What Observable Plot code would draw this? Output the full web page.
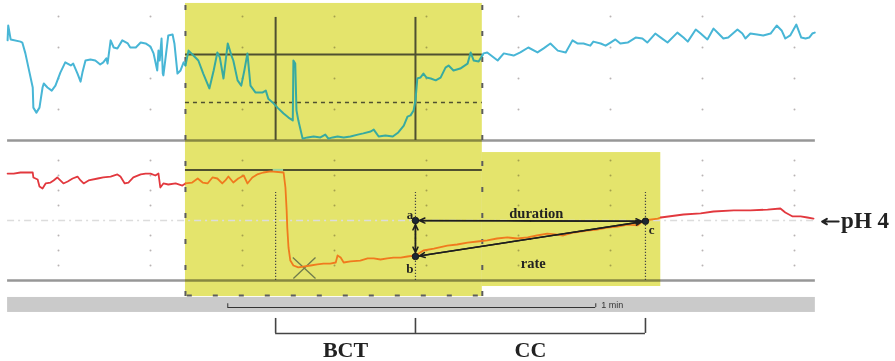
<!DOCTYPE html>
<html><head><meta charset="utf-8">
<script src="https://cdn.jsdelivr.net/npm/d3@7"></script>
<script src="https://cdn.jsdelivr.net/npm/@observablehq/plot@0.6"></script>
<style>html,body{margin:0;padding:0;background:#fff;}#chart svg{display:block;}</style>
</head><body><div id="chart"></div>
<script>
// ---- data (time in seconds, impedance in kΩ, pH) ----
const impTime = [-8.3,-8.2,-7.8,-6.2,-5.9,-5.4,-4.9,-4.2,-4.1,-3.6,-3.1,-2.6,-2.4,-1.8,-1.1,-0.5,0.3,1.1,2.0,2.4,3.1,3.6,3.9,4.4,5.2,6.0,6.8,7.3,7.8,8.0,8.5,9.0,9.6,10.4,11.3,11.7,12.6,13.4,14.2,15.0,15.5,16.1,16.3,16.5,16.8,17.0,17.1,17.4,17.9,18.6,18.9,19.4,19.9,20.4,20.7,21.2,22.0,22.8,23.6,24.6,25.3,25.9,26.3,26.9,27.6,28.2,28.5,29.2,29.8,30.3,30.8,31.3,32.1,33.3,33.8,34.2,35.1,35.7,36.7,37.5,38.2,38.3,38.6,38.8,39.1,39.8,40.6,41.6,42.7,43.5,44.0,44.7,45.5,46.5,47.6,48.8,49.7,50.9,51.4,52.2,53.3,54.5,55.4,56.3,56.9,57.4,57.9,58.2,58.5,59.0,59.5,60.0,60.7,61.5,62.3,63.1,63.6,64.4,65.5,66.7,67.2,67.7,68.5,69.3,69.9,71.6,72.6,74.2,75.3,76.6,78.1,79.1,80.2,81.4,82.7,83.8,84.6,85.6,86.7,87.2,88.4,89.2,90.0,90.8,91.6,92.8,94.1,95.2,96.0,97.3,98.2,99.3,100.9,101.9,102.6,103.9,104.7,105.8,106.8,107.6,108.4,109.2,110.7,111.5,112.0,112.8,113.9,114.9,116.1,117.1,117.9,118.5,119.3,120.3,121.1,121.8,122.4,122.9,123.3];
const impKohm = [3.23,3.71,3.26,3.19,3.16,2.81,2.35,1.71,1.06,0.90,1.06,1.71,1.84,1.71,1.61,1.77,2.19,2.52,2.42,2.48,2.16,1.90,2.19,2.58,2.61,2.58,2.45,2.52,2.65,2.48,3.23,3.00,2.97,3.23,3.13,3.00,3.00,3.16,3.13,3.03,2.81,2.26,2.90,2.58,3.29,2.16,2.10,2.58,3.39,3.42,3.13,2.16,2.26,2.52,2.42,2.90,2.74,2.58,2.16,1.68,2.26,2.84,2.68,2.00,3.13,2.74,2.58,1.94,1.77,2.26,2.81,1.77,1.55,1.55,1.61,1.35,1.19,1.06,0.87,0.74,0.65,2.58,2.48,0.97,0.65,0.06,0.10,0.13,0.10,0.19,0.06,0.10,0.13,0.10,0.13,0.19,0.23,0.29,0.35,0.13,0.16,0.13,0.26,0.48,0.77,0.81,0.97,1.29,2.00,2.03,2.16,2.03,2.00,1.94,2.03,2.35,2.42,2.26,2.32,2.48,2.84,2.58,2.55,2.81,2.84,2.58,2.81,2.74,2.84,3.00,2.84,2.97,3.13,2.90,2.84,3.23,3.13,3.13,3.06,3.19,3.13,3.06,3.16,3.26,3.13,3.16,3.32,3.29,3.16,3.45,3.32,3.16,3.48,3.32,3.19,3.58,3.45,3.26,3.61,3.45,3.29,3.32,3.58,3.45,3.29,3.45,3.42,3.39,3.45,3.71,3.55,3.29,3.39,3.74,3.32,3.29,3.32,3.45,3.48];
const phTime = [-8.3,-7.3,-6.2,-4.2,-4.1,-3.4,-3.1,-2.6,-2.1,-1.3,-0.8,-0.2,0.3,0.8,1.5,2.3,3.1,3.6,4.1,4.9,6.4,7.3,8.5,9.6,10.1,10.8,11.4,12.2,13.4,14.2,15.0,15.8,16.3,16.6,17.1,17.9,19.1,20.2,20.7,21.8,22.7,23.5,24.3,25.1,25.9,26.7,27.2,27.7,28.5,29.3,30.2,30.8,31.6,32.4,33.4,34.6,36.7,37.0,37.2,37.3,37.5,37.8,38.3,39.1,39.9,41.1,42.2,43.2,44.3,45.2,45.5,46.0,46.5,47.6,49.2,50.4,51.4,52.5,53.6,54.6,55.8,56.9,58.2,59.5,61.2,63.4,65.0,66.7,68.3,69.9,71.5,73.2,74.8,76.5,78.0,79.7,81.0,82.3,84.0,86.2,87.8,89.5,91.2,92.8,94.4,95.4,97.7,98.2,101.9,104.7,106.8,110.1,112.8,115.6,117.7,118.5,119.7,121.0,122.1,123.1];
const phValue = [7.13,7.13,7.20,7.20,6.87,6.73,6.27,6.13,6.47,6.53,6.67,6.87,6.67,6.47,6.60,6.80,6.93,6.67,6.47,6.67,6.80,6.87,6.93,7.07,6.93,6.47,6.53,6.87,7.07,7.13,7.13,7.00,7.13,6.20,6.47,6.40,6.47,6.33,6.47,6.53,6.80,6.53,6.47,6.87,6.80,6.47,6.67,6.93,6.53,6.80,7.00,6.47,6.87,7.07,7.20,7.27,7.20,6.20,4.67,3.53,2.20,1.33,1.00,0.87,0.93,1.00,1.07,1.13,1.13,1.20,1.67,1.53,1.20,1.27,1.33,1.47,1.47,1.40,1.47,1.53,1.53,1.60,1.67,2.00,2.13,2.33,2.40,2.53,2.60,2.67,2.80,2.87,2.80,2.87,3.00,3.13,3.07,3.00,3.20,3.33,3.40,3.53,3.60,3.73,3.67,4.00,4.13,4.20,4.40,4.47,4.60,4.67,4.67,4.73,4.80,4.53,4.27,4.27,4.20,4.13];
const gridTimes = [0,15,30,45,60,75,90,105,120];
const impGridKohm = [1,2,3,4];
const phGrid = [1,2,3,5,6,7,8];
const phaseLabels = ["BCT","CC"];
const phaseBounds = [35.4,58.2,95.7];   // onset of drop, point a/b, point c
const pointLabels = ["a","b","c"];
const pointTime = [58.2,58.2,95.7];
const pointPH = [4.0,1.6,3.95];
const scaleLabel = "1 min";
const refLabel = "pH 4";

// ---- shared vertical unit: pH units; impedance panel sits above pH 9.33 ----
const U = v => 28/3 + v*31/15;
const tMin = -8.3, tMax = 123.4;
const box1 = [20.7, 69.1], box2 = [69.1, 98.2];
const pxT = 92/15, pxU = 15;

function runs(ts, vs, lo, hi){
  const out=[]; let cur=null, curIn=null;
  for(let i=0;i<ts.length;i++){
    const p={t:ts[i],v:vs[i]}; const pin = p.t>=lo && p.t<=hi;
    if(cur===null){cur=[p];curIn=pin;out.push({inside:pin,pts:cur});continue;}
    if(pin!==curIn){
      const q={t:ts[i-1],v:vs[i-1]}; const b = pin?lo:hi;
      const bv = q.v+(p.v-q.v)*(b-q.t)/(p.t-q.t);
      cur.push({t:b,v:bv}); cur=[{t:b,v:bv},p]; curIn=pin; out.push({inside:pin,pts:cur});
    } else cur.push(p);
  }
  return out;
}
const impRuns = runs(impTime, impKohm.map(U), box1[0], box1[1]);
const phRuns = runs(phTime, phValue, box1[0], box2[1]);

const gridDots = [];
for(const t of gridTimes){ for(const v of impGridKohm) gridDots.push({t,u:U(v)}); for(const p of phGrid) gridDots.push({t,u:p}); }

const pts = pointLabels.map((l,i)=>({l,t:pointTime[i],u:pointPH[i]}));
const [pa,pb,pc] = pts;
const segs = [[pa,pb],[pa,pc],[pb,pc]];
const plainSegs = segs.map(([p,q])=>({t1:p.t,u1:p.u,t2:q.t,u2:q.u}));
// double-headed: arrows from each segment's midpoint out to both ends
const halfSegs = [];
for(const [p,q] of segs){
  const m={t:(p.t+q.t)/2,u:(p.u+q.u)/2};
  halfSegs.push({t1:m.t,u1:m.u,t2:p.t,u2:p.u},{t1:m.t,u1:m.u,t2:q.t,u2:q.u});
}

const olive = "#4f5030";
const serif = "Liberation Serif";

const marks = [
  Plot.rect([{}],{x1:tMin,x2:tMax,y1:-1.13,y2:-2.13,fill:"#cacaca"}),
  Plot.dot(gridDots,{x:"t",y:"u",r:1,fill:"#b9b4b4"}),
  Plot.ruleY([U(0),0],{x1:tMin,x2:tMax,stroke:"#979797",strokeWidth:2.5}),
  Plot.rect([{x1:box1[0],x2:box1[1],y1:-1.07,y2:18.47},{x1:box2[0],x2:box2[1],y1:-0.4,y2:8.53}],
    {x1:"x1",x2:"x2",y1:"y1",y2:"y2",fill:"#e4e46c",mixBlendMode:"multiply"}),
  Plot.ruleY([4],{x1:tMin,x2:tMax,stroke:"#dcdcdc",strokeWidth:1.5,strokeDasharray:"7,4,2,4"}),
  Plot.ruleX(box1,{y1:-1.07,y2:18.47,stroke:"#5c5c5c",strokeWidth:2,strokeDasharray:"5,21"}),
  Plot.ruleY([-1.0],{x1:box1[0]+0.3,x2:box1[1],stroke:"#5c5c5c",strokeWidth:2,strokeDasharray:"5,21"}),
  Plot.ruleY([U(2.774)],{x1:box1[0],x2:box1[1],stroke:olive,strokeWidth:2}),
  Plot.ruleY([U(1.226)],{x1:box1[0],x2:box1[1],stroke:olive,strokeWidth:1.5,strokeDasharray:"4,4"}),
  Plot.ruleX([phaseBounds[0],phaseBounds[1]],{y1:U(0),y2:U(3.97),stroke:olive,strokeWidth:2}),
  Plot.ruleY([7.36],{x1:box1[0],x2:box1[1],stroke:olive,strokeWidth:2}),
  Plot.ruleY([7.36],{x1:35.0,x2:36.7,stroke:"#9ad49c",strokeWidth:2.5}),
  Plot.ruleX(phaseBounds,{y1:0,y2:5.87,stroke:"#444",strokeWidth:1.2,strokeDasharray:"1.2,1.8"}),
  Plot.link([{t1:38.2,u1:1.53,t2:41.9,u2:0.13},{t1:38.3,u1:0.13,t2:41.9,u2:1.53}],
    {x1:"t1",y1:"u1",x2:"t2",y2:"u2",stroke:"#6f7a4c",strokeWidth:1.3}),
];
for(const r of impRuns) marks.push(Plot.line(r.pts,{x:"t",y:"v",stroke:r.inside?"#38aaa0":"#48b6d6",strokeWidth:2,curve:"linear"}));
for(const r of phRuns) marks.push(Plot.line(r.pts,{x:"t",y:"v",stroke:r.inside?"#f07a1e":"#e2383e",strokeWidth:1.8,curve:"linear"}));
marks.push(
  Plot.link(plainSegs,{x1:"t1",y1:"u1",x2:"t2",y2:"u2",stroke:"#1e1e1e",strokeWidth:1.4}),
  Plot.arrow(halfSegs,{x1:"t1",y1:"u1",x2:"t2",y2:"u2",stroke:"#1e1e1e",strokeWidth:1.5,headLength:6,headAngle:50,insetEnd:4}),
  Plot.dot(pts,{x:"t",y:"u",r:3.3,fill:"#1c2733",stroke:"#111",strokeWidth:0.8}),
  Plot.text(pts,{x:d=>d.t+(d.l==="c"?1.0:-0.9),y:d=>d.u+(d.l==="a"?0.4:d.l==="b"?-0.8:-0.55),text:"l",
    fontFamily:serif,fontWeight:"bold",fontSize:13,fill:"#222"}),
  Plot.text(["duration"],{x:77.9,y:4.47,text:d=>d,fontFamily:serif,fontWeight:"bold",fontSize:14.5,fill:"#222"}),
  Plot.text(["rate"],{x:77.4,y:1.13,text:d=>d,fontFamily:serif,fontWeight:"bold",fontSize:14.5,fill:"#222"}),
  // pH 4 pointer
  Plot.arrow([{t1:127.2,t2:124.5}],{x1:"t1",x2:"t2",y1:3.93,y2:3.93,stroke:"#222",strokeWidth:2,headLength:7,headAngle:60}),
  Plot.text([refLabel],{x:127.6,y:3.97,text:d=>d,textAnchor:"start",fontFamily:serif,fontWeight:"bold",fontSize:23,fill:"#222"}),
  Plot.ruleY([-1.8],{x1:27.6,x2:87.6,stroke:"#333",strokeWidth:1}),
  Plot.ruleX([27.6,87.6],{y1:-1.8,y2:-1.55,stroke:"#333",strokeWidth:1}),
  Plot.text([scaleLabel],{x:88.5,y:-1.67,text:d=>d,textAnchor:"start",fontFamily:"Liberation Sans",fontSize:9,fill:"#333"}),
  Plot.ruleX(phaseBounds,{y1:-3.53,y2:-2.53,stroke:"#444",strokeWidth:1.6}),
  Plot.ruleY([-3.53],{x1:phaseBounds[0],x2:phaseBounds[2],stroke:"#444",strokeWidth:1.6}),
  Plot.text(phaseLabels,{x:(d,i)=>(phaseBounds[i]+phaseBounds[i+1])/2,y:-4.62,text:d=>d,fontFamily:serif,fontWeight:"bold",fontSize:22,fill:"#222"})
);

const chart = Plot.plot({
  width:895, height:361, margin:0,
  x:{domain:[-58/pxT,(895-58)/pxT],range:[0,895],axis:null},
  y:{domain:[(280-361)/15,280/15],range:[361,0],axis:null},
  style:{background:"#fff",overflow:"visible"},
  marks
});
document.getElementById("chart").appendChild(chart);
</script></body></html>
